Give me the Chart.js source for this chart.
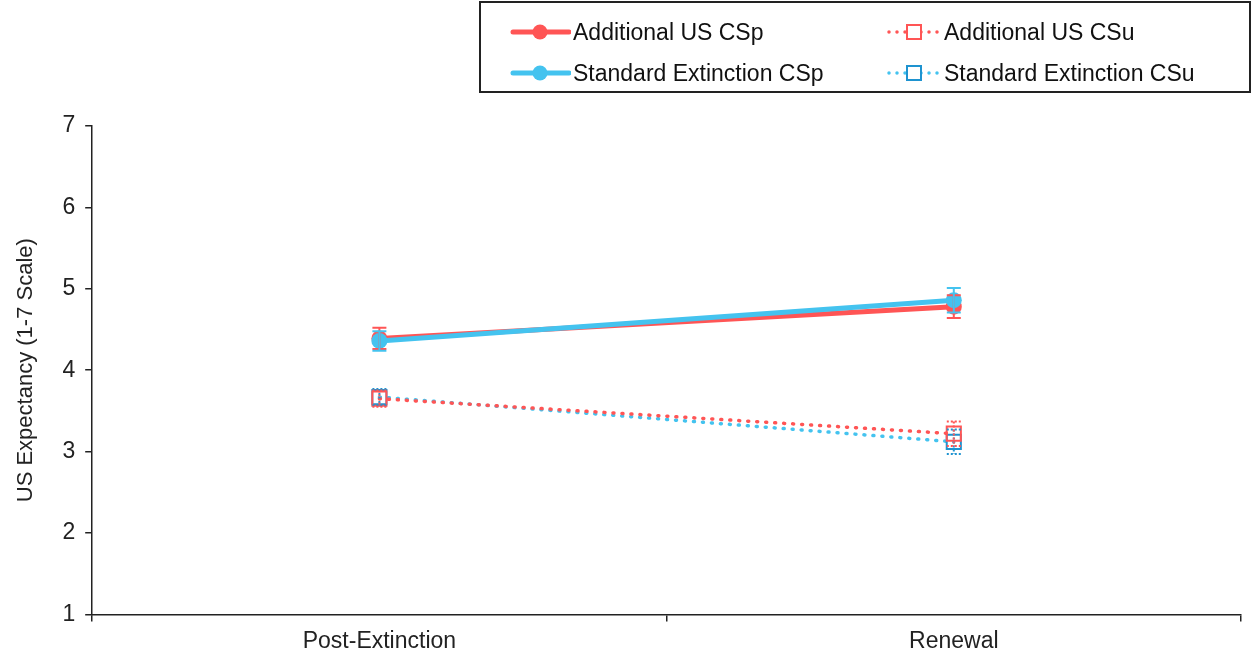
<!DOCTYPE html>
<html>
<head>
<meta charset="utf-8">
<script src="https://cdn.jsdelivr.net/npm/chart.js@4.4.1/dist/chart.umd.min.js"></script>
<style>
    html, body { margin: 0; padding: 0; background: #fff; }
    #wrap { position: relative; width: 1257px; height: 655px; }
    #legend {
        position: absolute; left: 479px; top: 1px; width: 772px; height: 92px;
        border: 2px solid #222; box-sizing: border-box;
        font-family: "Liberation Sans", Arial, sans-serif; font-size: 23px; color: #111;
    }
    .item { position: absolute; display: flex; align-items: center; height: 30px; }
    .item svg { margin-right: 2px; }
</style>
</head>
<body>
<div id="wrap">
    <canvas id="chart" width="1257" height="655"></canvas>
    <div id="legend"></div>
</div>
<script>
const categories = ["Post-Extinction", "Renewal"];

const addCSp = [4.39, 4.78];
const addCSpErr = [0.13, 0.14];
const stdCSp = [4.36, 4.86];
const stdCSpErr = [0.12, 0.15];
const addCSu = [3.65, 3.22];
const addCSuErr = [0.1, 0.15];
const stdCSu = [3.67, 3.12];
const stdCSuErr = [0.1, 0.15];

const yTicks = [1, 2, 3, 4, 5, 6, 7];

const RED = "#ff5555";
const BLUE = "#44c3ef";
const BLUE_DARK = "#1e93d0";

// first dataset is drawn on top
const datasets = [
    {
        label: "Standard Extinction CSp", data: stdCSp, err: stdCSpErr,
        borderColor: BLUE, borderWidth: 5, pointStyle: "circle", pointRadius: 8,
        pointBorderWidth: 0, pointBackgroundColor: BLUE,
    },
    {
        label: "Additional US CSp", data: addCSp, err: addCSpErr,
        borderColor: RED, borderWidth: 5, pointStyle: "circle", pointRadius: 8,
        pointBorderWidth: 0, pointBackgroundColor: RED,
    },
    {
        label: "Additional US CSu", data: addCSu, err: addCSuErr,
        borderColor: RED, borderWidth: 3.5, borderDash: [1, 8], borderCapStyle: "round",
        pointStyle: "rect", pointRadius: 10, pointBorderWidth: 2,
        pointBorderColor: RED, pointBackgroundColor: "rgba(255,255,255,0)",
    },
    {
        label: "Standard Extinction CSu", data: stdCSu, err: stdCSuErr,
        borderColor: BLUE, borderWidth: 3.5, borderDash: [1, 8], borderCapStyle: "round",
        pointStyle: "rect", pointRadius: 10, pointBorderWidth: 2,
        pointBorderColor: BLUE_DARK, pointBackgroundColor: "rgba(255,255,255,0)",
    },
];

// error bars drawn with the chart's own scales
const errorBars = {
    id: "errorBars",
    afterDatasetsDraw(chart) {
        const ctx = chart.ctx;
        const y = chart.scales.y;
        for (let i = chart.data.datasets.length - 1; i >= 0; i--) {
            const ds = chart.data.datasets[i];
            const meta = chart.getDatasetMeta(i);
            const hollow = ds.pointStyle === "rect";
            ctx.save();
            ctx.strokeStyle = hollow ? ds.pointBorderColor : ds.borderColor;
            ctx.lineWidth = 2;
            if (hollow) ctx.setLineDash([2, 2]);
            meta.data.forEach((pt, j) => {
                const top = y.getPixelForValue(ds.data[j] + ds.err[j]);
                const bot = y.getPixelForValue(ds.data[j] - ds.err[j]);
                ctx.beginPath();
                ctx.moveTo(pt.x, top); ctx.lineTo(pt.x, bot);
                ctx.moveTo(pt.x - 7, top); ctx.lineTo(pt.x + 7, top);
                ctx.moveTo(pt.x - 7, bot); ctx.lineTo(pt.x + 7, bot);
                ctx.stroke();
            });
            ctx.restore();
        }
    },
};

const font = { family: "'Liberation Sans', Arial, sans-serif", size: 23 };

new Chart(document.getElementById("chart"), {
    type: "line",
    data: { labels: categories, datasets },
    options: {
        responsive: false,
        animation: false,
        layout: { padding: { top: 126, right: 16, left: 0, bottom: -6 } },
        plugins: { legend: { display: false }, tooltip: { enabled: false } },
        scales: {
            x: {
                offset: true,
                grid: { offset: true, drawOnChartArea: false, tickLength: 7, color: "#222", lineWidth: 1.5 },
                border: { color: "#222", width: 1.5 },
                ticks: { font, color: "#222", padding: 6 },
            },
            y: {
                min: 1, max: 7,
                afterBuildTicks: (s) => { s.ticks = yTicks.map((v) => ({ value: v })); },
                grid: { drawOnChartArea: false, tickLength: 7, color: "#222", lineWidth: 1.5 },
                border: { color: "#222", width: 1.5 },
                ticks: { font, color: "#222", padding: 10 },
                title: { display: true, text: "US Expectancy (1-7 Scale)", font: { family: font.family, size: 22 }, color: "#222", padding: 13 },
            },
        },
    },
    plugins: [errorBars],
});

// html legend, same order as the reference
const legendItems = [
    { label: "Additional US CSp", color: RED, solid: true, left: 29, top: 14 },
    { label: "Additional US CSu", color: RED, mark: RED, solid: false, left: 405, top: 14 },
    { label: "Standard Extinction CSp", color: BLUE, solid: true, left: 29, top: 55 },
    { label: "Standard Extinction CSu", color: BLUE, mark: BLUE_DARK, solid: false, left: 405, top: 55 },
];
const legend = document.getElementById("legend");
legendItems.forEach((it) => {
    const div = document.createElement("div");
    div.className = "item";
    div.style.left = it.left + "px";
    div.style.top = it.top + "px";
    let svg;
    if (it.solid) {
        svg = `<svg width="61" height="20"><line x1="3" y1="10" x2="59" y2="10" stroke="${it.color}" stroke-width="5" stroke-linecap="round"/><circle cx="30" cy="10" r="7.5" fill="${it.color}"/></svg>`;
    } else {
        svg = `<svg width="56" height="20"><line x1="3" y1="10" x2="54" y2="10" stroke="${it.color}" stroke-width="3.5" stroke-dasharray="0 8" stroke-linecap="round"/><rect x="21" y="3" width="14" height="14" fill="#fff" stroke="${it.mark}" stroke-width="2"/></svg>`;
    }
    div.innerHTML = svg + `<span>${it.label}</span>`;
    legend.appendChild(div);
});
</script>
</body>
</html>
